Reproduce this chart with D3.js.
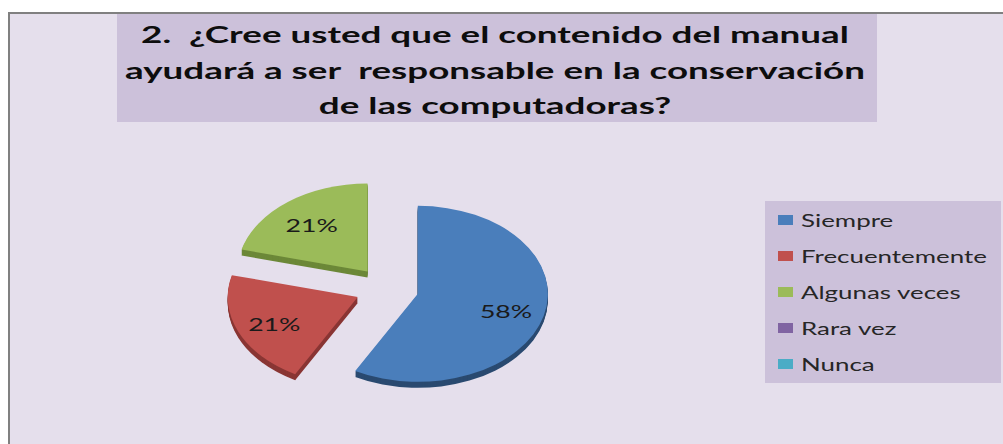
<!DOCTYPE html>
<html>
<head>
<meta charset="utf-8">
<script src="https://cdn.jsdelivr.net/npm/d3@7"></script>
<style>
  html, body { margin: 0; padding: 0; background: #fff; overflow: hidden; }
  svg { display: block; }
  text { white-space: pre; }
</style>
</head>
<body>
<svg id="chart" width="1003" height="444"></svg>
<script>
// --- data ---
const categories = ['Siempre', 'Frecuentemente', 'Algunas veces', 'Rara vez', 'Nunca'];
const percents = [58, 21, 21, 0, 0];
const titleLines = [
    '2.  ¿Cree usted que el contenido del manual',
    'ayudará a ser  responsable en la conservación',
    'de las computadoras?'
];
const topColors = ['#4a7ebb', '#c0504d', '#9bbb59', '#8064a2', '#4bacc6'];
const sideColors = ['#2a4a70', '#8a3634', '#6c8838', '#5c4878', '#31809a'];

const W = 1003, H = 444;
const STRETCH = 1.48;       // the picture is wider than it is tall, text included
const TITLE_STRETCH = 1.6;
const LEGEND_STRETCH = 1.44;
const svg = d3.select('#chart');

// chart area + border (right and bottom run off the picture)
svg.append('rect')
    .attr('x', 9).attr('y', 13).attr('width', W).attr('height', H)
    .attr('fill', '#e5dfec').attr('stroke', '#808080').attr('stroke-width', 2);

// stretched text helper
function stretchedText(g, x, y, str, anchor, sx = STRETCH) {
    return g.append('text')
        .attr('transform', `translate(${x},${y}) scale(${sx},1)`)
        .attr('text-anchor', anchor)
        .text(str);
}

// title
svg.append('rect')
    .attr('x', 117).attr('y', 14).attr('width', 760).attr('height', 108)
    .attr('fill', '#ccc1da');

const titleY = d3.scalePoint().domain(d3.range(titleLines.length)).range([43, 114]);
const titleG = svg.append('g')
    .style('font-family', 'Lato, "Open Sans", sans-serif')
    .style('font-weight', 'bold').style('font-size', '23px').attr('fill', '#0d0d0d');
titleLines.forEach((line, i) => stretchedText(titleG, 495, titleY(i), line, 'middle', TITLE_STRETCH));

// pie (tilted, exploded, a little depth)
const cx = 387, cy = 288.5, rx = 130, ry = 88, depth = 6, explode = 0.245;
const color = d3.scaleOrdinal(categories, topColors);
const side = d3.scaleOrdinal(categories, sideColors);

const pie = d3.pie().sort(null).value(d => d.value);
const slices = pie(categories.map((c, i) => ({ cat: c, value: percents[i] })))
    .filter(s => s.data.value > 0);
const arc = d3.arc().innerRadius(0).outerRadius(rx);
const k = ry / rx;

const pieG = svg.append('g');
// back slices first
const order = slices.slice().sort((a, b) =>
    (-Math.cos((a.startAngle + a.endAngle) / 2)) - (-Math.cos((b.startAngle + b.endAngle) / 2)));

order.forEach(s => {
    const mid = (s.startAngle + s.endAngle) / 2;
    const ox = cx + explode * rx * Math.sin(mid);
    const oy = cy - explode * ry * Math.cos(mid);
    const d = arc(s);
    for (let z = depth; z >= 1; z--) {
        pieG.append('path')
            .attr('transform', `translate(${ox},${oy + z}) scale(1,${k})`)
            .attr('d', d).attr('fill', side(s.data.cat));
    }
    pieG.append('path')
        .attr('transform', `translate(${ox},${oy}) scale(1,${k})`)
        .attr('d', d).attr('fill', color(s.data.cat));
});

// percentage labels
const labelG = svg.append('g')
    .style('font-family', 'Lato, "Open Sans", sans-serif')
    .style('font-size', '18px').attr('fill', '#1a1a1a');
slices.forEach(s => {
    const mid = (s.startAngle + s.endAngle) / 2;
    const f = explode + 0.7;
    const lx = cx + f * rx * Math.sin(mid);
    const ly = cy - f * ry * Math.cos(mid);
    stretchedText(labelG, lx, ly + 9, s.data.value + '%', 'middle');
});

// legend
svg.append('rect')
    .attr('x', 765).attr('y', 201).attr('width', 236).attr('height', 182)
    .attr('fill', '#ccc1da');
const legendY = d3.scalePoint().domain(categories).range([220, 364]);
const legendG = svg.append('g')
    .style('font-family', 'Lato, "Open Sans", sans-serif')
    .style('font-size', '18px').attr('fill', '#262626');
categories.forEach(c => {
    legendG.append('rect')
        .attr('x', 778).attr('y', legendY(c) - 5).attr('width', 15).attr('height', 10)
        .attr('fill', color(c));
    stretchedText(legendG, 801, legendY(c) + 7, c, 'start', LEGEND_STRETCH);
});
</script>
</body>
</html>
